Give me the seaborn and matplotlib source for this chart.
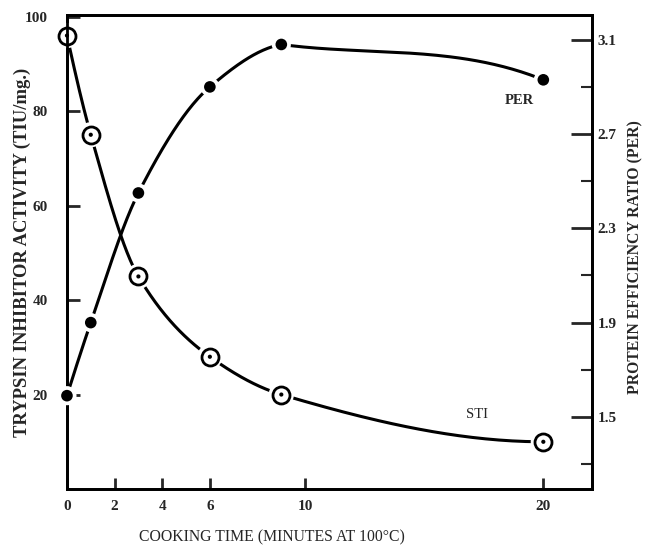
import numpy as np
import pandas as pd
import matplotlib
matplotlib.use("Agg")
import matplotlib.pyplot as plt
import seaborn as sns

# ---- data ----
time_min = [0, 1, 3, 6, 9, 20]
sti_tiu = [96, 75, 45, 28, 20, 10]                # trypsin inhibitor activity (TIU/mg)
per_ratio = [1.59, 1.90, 2.45, 2.90, 3.08, 2.93]  # protein efficiency ratio
x_ticks = [0, 2, 4, 6, 10, 20]
left_ticks = [20, 40, 60, 80, 100]
right_ticks = [1.5, 1.9, 2.3, 2.7, 3.1]
right_minor = [1.3, 1.7, 2.1, 2.5, 2.9]


def smooth_curve(x, y, n=60):
    """Piecewise cubic Hermite rendering of the hand-drawn connecting line.
    At a local extremum each side keeps its own tangent (the marker hides
    the kink), elsewhere PCHIP tangents are used."""
    x = np.asarray(x, float)
    y = np.asarray(y, float)
    h = np.diff(x)
    d = np.diff(y) / h
    k = len(x)
    mL = np.zeros(k)  # tangent at the end of the arriving segment
    mR = np.zeros(k)  # tangent at the start of the leaving segment
    for i in range(1, k - 1):
        if d[i - 1] * d[i] <= 0:
            mL[i] = 0.3 * d[i - 1]
            mR[i] = d[i]
        else:
            w1 = 2 * h[i] + h[i - 1]
            w2 = h[i] + 2 * h[i - 1]
            mL[i] = mR[i] = (w1 + w2) / (w1 / d[i - 1] + w2 / d[i])

    def end(h0, h1, d0, d1):
        s = ((2 * h0 + h1) * d0 - h0 * d1) / (h0 + h1)
        if np.sign(s) != np.sign(d0):
            s = 0.0
        elif np.sign(d0) != np.sign(d1) and abs(s) > abs(3 * d0):
            s = 3 * d0
        return s

    mR[0] = end(h[0], h[1], d[0], d[1])
    mL[-1] = end(h[-1], h[-2], d[-1], d[-2])
    xs_all, ys_all = [], []
    for i in range(k - 1):
        t = np.linspace(0, 1, n)
        h00 = 2 * t**3 - 3 * t**2 + 1
        h10 = t**3 - 2 * t**2 + t
        h01 = -2 * t**3 + 3 * t**2
        h11 = t**3 - t**2
        xs_all.append(x[i] + t * h[i])
        ys_all.append(h00 * y[i] + h10 * h[i] * mR[i] +
                      h01 * y[i + 1] + h11 * h[i] * mL[i + 1])
    return np.concatenate(xs_all), np.concatenate(ys_all)


sns.set_style("white")
plt.rcParams["font.family"] = ["Liberation Serif", "DejaVu Serif"]

fig = plt.figure(figsize=(6.5, 5.47), dpi=100)
ax = fig.add_axes([0.103, 0.106, 0.808, 0.867])
ax2 = ax.twinx()

df = pd.DataFrame({"time": time_min, "sti": sti_tiu, "per": per_ratio})

# smooth connecting lines
sx, sy = smooth_curve(time_min, sti_tiu)
px, py = smooth_curve(time_min, per_ratio)
sns.lineplot(x=sx, y=sy, ax=ax, color="black", lw=2.2, zorder=2,
             sort=False, estimator=None)
sns.lineplot(x=px, y=py, ax=ax2, color="black", lw=2.2, zorder=2,
             sort=False, estimator=None)

# white halos (gaps where the lines meet the markers)
sns.scatterplot(data=df, x="time", y="sti", ax=ax, s=330, color="white",
                edgecolor="none", zorder=3, clip_on=False)
sns.scatterplot(data=df, x="time", y="per", ax=ax2, s=190, color="white",
                edgecolor="none", zorder=3, clip_on=False)
# STI open circles with a dot in the centre
sns.scatterplot(data=df, x="time", y="sti", ax=ax, s=150, facecolor="white",
                edgecolor="black", linewidth=2.0, zorder=4, clip_on=False)
sns.scatterplot(data=df, x="time", y="sti", ax=ax, s=9, color="black",
                edgecolor="none", zorder=5, clip_on=False)
# PER filled dots
sns.scatterplot(data=df, x="time", y="per", ax=ax2, s=70, color="black",
                edgecolor="none", zorder=4, clip_on=False)

ax.set_xlim(0, 22.05)
ax.set_ylim(0, 100.4)
ax2.set_ylim(1.194, 3.206)

ax.set_xticks(x_ticks)
ax.set_xticklabels([str(v) for v in x_ticks])
ax.set_yticks(left_ticks)
ax.set_yticklabels([str(v) for v in left_ticks])
ax2.set_yticks(right_ticks)
ax2.set_yticklabels([f"{v:.1f}" for v in right_ticks])
ax2.set_yticks(right_minor, minor=True)

for lab in ax.get_xticklabels() + ax.get_yticklabels() + ax2.get_yticklabels():
    lab.set_fontsize(11)
    lab.set_fontweight("bold")

ax.tick_params(axis="x", direction="in", length=8, width=2, pad=8,
               bottom=True, top=False)
ax.tick_params(axis="y", direction="in", length=9, width=2, pad=14,
               left=True, right=False)
ax2.tick_params(axis="y", which="major", direction="in", length=15, width=2,
                pad=4, right=True)
ax2.tick_params(axis="y", which="minor", direction="in", length=8, width=1.5,
                right=True)

for a in (ax, ax2):
    for sp in a.spines.values():
        sp.set_linewidth(2)
        sp.set_color("black")

ax.set_xlabel("COOKING TIME (MINUTES AT 100°C)", fontsize=11.3)
ax.xaxis.set_label_coords(0.39, -0.085)
ax.set_ylabel("TRYPSIN INHIBITOR ACTIVITY (TIU/mg.)", fontsize=13.4,
              fontweight="bold")
ax.yaxis.set_label_coords(-0.068, 0.5)
ax2.set_ylabel("PROTEIN EFFICIENCY RATIO (PER)", fontsize=11.3,
               fontweight="bold", rotation=90)
ax2.yaxis.set_label_coords(1.068, 0.49)

ax.text(19.0, 82.3, "PER", fontsize=10.5, fontweight="bold",
        ha="center", va="center")
ax.text(17.2, 15.7, "STI", fontsize=10.5, ha="center", va="center")

ax.grid(False)
ax2.grid(False)
fig.savefig("out.png", dpi=100)
